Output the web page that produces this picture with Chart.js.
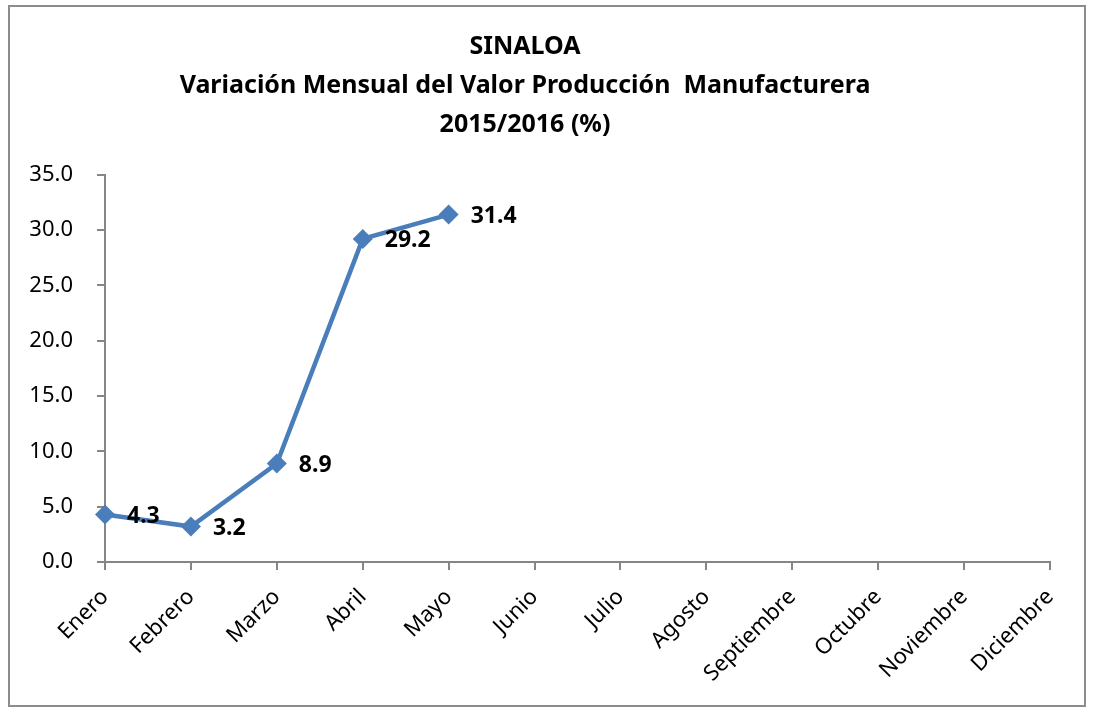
<!DOCTYPE html>
<html>
<head>
<meta charset="utf-8">
<script src="https://cdn.jsdelivr.net/npm/chart.js@4/dist/chart.umd.min.js"></script>
<style>
  html, body { margin: 0; padding: 0; background: #fff; }
  #wrap { width: 1094px; height: 708px; }
</style>
</head>
<body>
<div id="wrap"><canvas id="chart" width="1094" height="708"></canvas></div>
<script>
// data
var months = ['Enero', 'Febrero', 'Marzo', 'Abril', 'Mayo', 'Junio', 'Julio', 'Agosto',
  'Septiembre', 'Octubre', 'Noviembre', 'Diciembre']
var variacion = [4.3, 3.2, 8.9, 29.2, 31.4, null, null, null, null, null, null, null]
var titleLines = ['SINALOA', 'Variación Mensual del Valor Producción  Manufacturera', '2015/2016 (%)']

var axisGray = '#868686'
var blue = '#4a7ebb'
var fontFamily = '"Noto Sans", "Open Sans", sans-serif'

// outer frame like the spreadsheet chart box
var framePlugin = {
  id: 'frame',
  afterDraw(chart) {
    var ctx = chart.ctx
    ctx.save()
    ctx.strokeStyle = '#8c8c8c'
    ctx.lineWidth = 2
    ctx.strokeRect(9, 6, 1076, 700)
    ctx.restore()
  }
}

// value labels to the right of each point
var valueLabels = {
  id: 'valueLabels',
  afterDatasetsDraw(chart) {
    var ctx = chart.ctx
    var meta = chart.getDatasetMeta(0)
    ctx.save()
    ctx.font = 'bold 23px ' + fontFamily
    ctx.fillStyle = '#000'
    ctx.textAlign = 'left'
    ctx.textBaseline = 'middle'
    meta.data.forEach((pt, i) => {
      var v = variacion[i]
      if (v === null) return
      ctx.fillText(v.toFixed(1), pt.x + 22, pt.y + 2)
    })
    ctx.restore()
  }
}

new Chart(document.getElementById('chart'), {
  type: 'line',
  data: {
    labels: months,
    datasets: [{
      data: variacion,
      borderColor: blue,
      backgroundColor: blue,
      borderWidth: 4.5,
      pointStyle: 'rectRot',
      pointRadius: 10,
      pointHoverRadius: 10,
      pointBorderWidth: 0,
      tension: 0,
      spanGaps: false,
    }],
  },
  options: {
    responsive: false,
    animation: false,
    layout: { padding: { left: 0, right: 44, top: 0, bottom: 0 } },
    plugins: {
      legend: { display: false },
      tooltip: { enabled: false },
      title: {
        display: true,
        text: titleLines,
        color: '#000',
        font: { family: fontFamily, size: 25, weight: 'bold', lineHeight: 1.57 },
        padding: { top: 27, bottom: 30 },
      },
    },
    scales: {
      x: {
        offset: false,
        grid: { drawOnChartArea: false, drawTicks: true, tickLength: 8, color: axisGray, lineWidth: 2 },
        border: { color: axisGray, width: 2 },
        ticks: {
          color: '#000',
          font: { family: fontFamily, size: 22 },
          minRotation: 45,
          maxRotation: 45,
          autoSkip: false,
          padding: 14,
        },
        afterFit(scale) { scale.height = 146 },
      },
      y: {
        min: 0,
        max: 35,
        grid: { drawOnChartArea: false, drawTicks: true, tickLength: 8, color: axisGray, lineWidth: 2 },
        border: { color: axisGray, width: 2 },
        ticks: {
          stepSize: 5,
          color: '#000',
          font: { family: fontFamily, size: 22 },
          padding: 24,
          callback: (v) => v.toFixed(1),
        },
        afterFit(scale) { scale.width = 105 },
      },
    },
  },
  plugins: [framePlugin, valueLabels],
})
</script>
</body>
</html>
